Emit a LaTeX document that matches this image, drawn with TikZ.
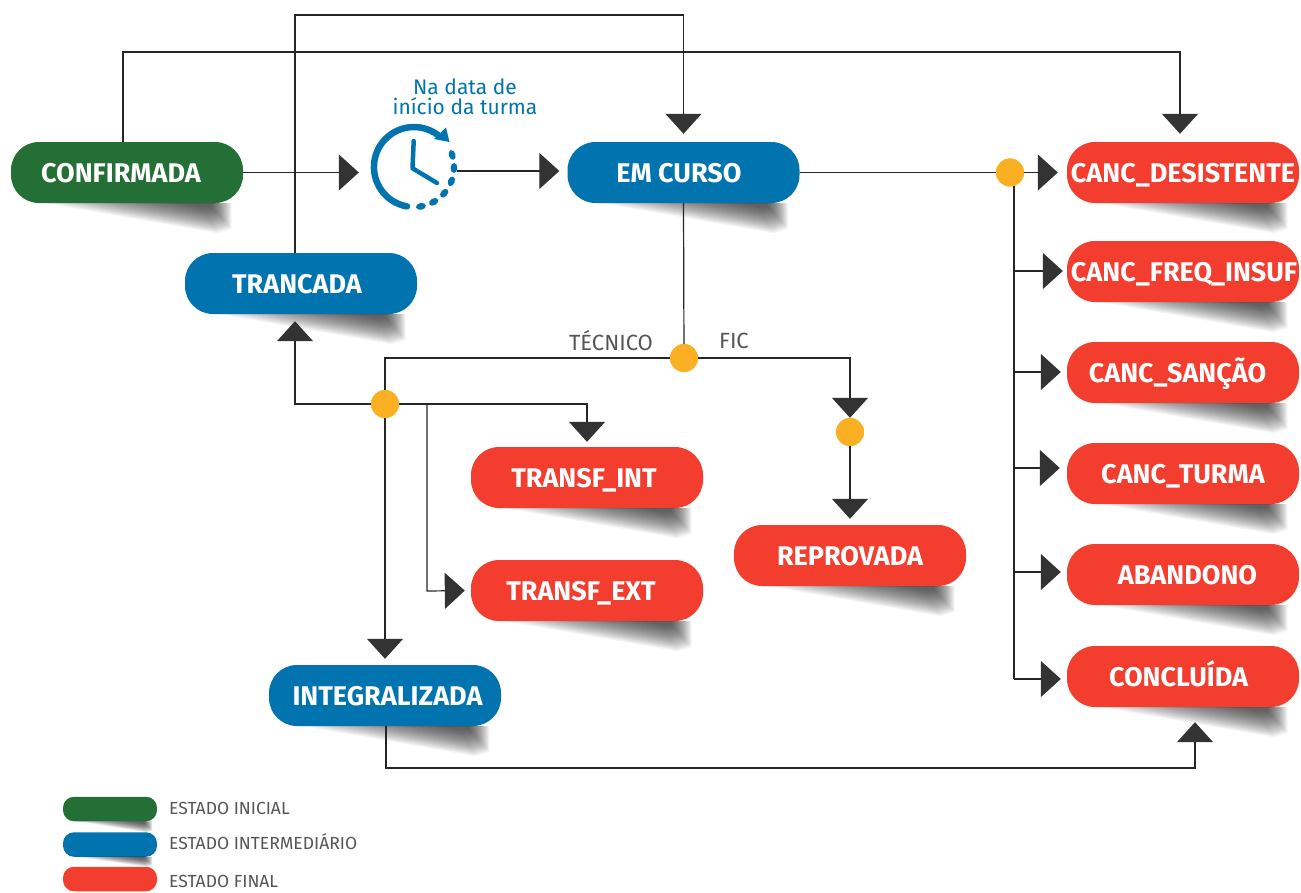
\documentclass[tikz,border=0pt]{standalone}
\usepackage{fontspec}
\setmainfont{Fira Sans}
\usetikzlibrary{arrows.meta,calc}

\definecolor{verde}{HTML}{236F35}
\definecolor{azul}{HTML}{0174AF}
\definecolor{vermelho}{HTML}{F33D2F}
\definecolor{laranja}{HTML}{FBB024}
\definecolor{ponta}{HTML}{333333}
\definecolor{cinza}{HTML}{555555}

\tikzset{
    estado/.style={rectangle, rounded corners=28pt, minimum width=232pt, minimum height=61pt,
        inner sep=0pt, text=white, text height=19pt, text depth=0pt,
        font=\fontsize{27}{31}\selectfont\bfseries, fill=#1},
    chave/.style={rectangle, rounded corners=11pt, minimum width=94pt, minimum height=24.5pt,
        inner sep=0pt, fill=#1},
    juncao/.style={circle, fill=laranja, minimum size=28pt, inner sep=0pt},
    linha/.style={line width=1.2pt, draw=black!85},
    seta/.style={linha, -{Triangle[length=20pt,width=36pt,color=ponta]}},
    rotulo/.style={text=cinza, font=\fontsize{22}{26}\selectfont},
    legenda/.style={text=cinza, anchor=west, inner sep=0pt, font=\fontsize{17.5}{21}\selectfont}
}

% sombra em cunha abaixo de um estado
\newcommand{\sombra}[2]{
    \foreach \i in {0,...,23} {
        \pgfmathsetmacro{\t}{\i/24}
        \fill[black, opacity=.04]
            ($(#1.south west)!{.15+.62*\t}!(#1.south east)$)
            -- ($(#1.south west)!{.95-.09*\t}!(#1.south east)$)
            -- ($(#1.south west)!{.95-.09*\t}!(#1.south east)+(0,{#2*(.85-.75*\t)})$)
            -- ($(#1.south west)!{.89-.07*\t}!(#1.south east)+(0,{#2*(1-.9*\t)})$)
            -- cycle;
    }
}

\begin{document}
\begin{tikzpicture}[x=1pt, y=-1pt]
    \useasboundingbox (0, 0) rectangle (1301, 892);

    % Estados
    \node[estado=verde] (confirmada) at (127, 172.5) {\hspace*{-12pt}CONFIRMADA};
    \node[estado=azul] (trancada) at (301, 283.5) {\hspace*{-8pt}TRANCADA};
    \node[estado=azul] (emcurso) at (683.5, 172.5) {\hspace*{-9pt}EM CURSO};
    \node[estado=azul] (integralizada) at (385, 695.5) {\hspace*{5pt}INTEGRALIZADA};
    \node[estado=vermelho] (transfint) at (587, 477.5) {\hspace*{-6pt}TRANSF\_INT};
    \node[estado=vermelho] (transfext) at (587, 590.5) {\hspace*{-12pt}TRANSF\_EXT};
    \node[estado=vermelho] (reprovada) at (850, 555.5) {REPROVADA};
    \node[estado=vermelho] (desistente) at (1183, 172.5) {CANC\_DESISTENTE};
    \node[estado=vermelho] (frequencia) at (1183, 271.5) {\hspace*{2pt}CANC\_FREQ\_INSUF};
    \node[estado=vermelho] (sancao) at (1183, 372.5) {\hspace*{-11pt}CANC\_SANÇÃO};
    \node[estado=vermelho] (turma) at (1183, 473.5) {CANC\_TURMA};
    \node[estado=vermelho] (abandono) at (1183, 574.5) {\hspace*{9pt}ABANDONO};
    \node[estado=vermelho] (concluida) at (1183, 676.5) {\hspace*{-9pt}CONCLUÍDA};

    % Sombras
    \foreach \n in {confirmada, trancada, emcurso, integralizada, transfint, transfext,
        reprovada, desistente, frequencia, sancao, turma, abandono, concluida} {
        \sombra{\n}{30}
    }

    % Relogio
    \node[minimum size=86pt, inner sep=0pt] (relogio) at (414, 167) {};
    \draw[azul, line width=6.5pt, line cap=round] (407, 206.4) arc (100:309:40);
    \fill[azul] (446, 127.5) -- (449.5, 142) -- (434, 139) -- cycle;
    \draw[azul, line width=4.5pt, line cap=round, line join=round] (413.7, 141) -- (412.5, 168.3) -- (437, 183);
    \foreach \a in {-17.5, 1.4, 21, 41, 60.6, 80} {
        \fill[azul, shift={(414, 167)}, shift={(\a:40)}, rotate=-\a] (0, 0) ellipse (3.4 and 5);
    }
    \node[text=azul, align=center, inner sep=0pt, font=\fontsize{21}{20}\selectfont] (aviso) at (465, 97) {Na data de\\início da turma};

    % Juncoes
    \node[juncao] (direita) at (1010, 172.5) {};
    \node[juncao] (tipo) at (684, 358) {};
    \node[juncao] (saida) at (385, 404) {};
    \node[juncao] (fic) at (850, 432) {};

    % Rotulos
    \node[rotulo] (tecnico) at (611, 341) {TÉCNICO};
    \node[rotulo] (ficlabel) at (734, 341) {FIC};

    % Linhas de cima
    \coordinate (c1) at (123, 52);
    \coordinate (c2) at (1180, 52);
    \coordinate (c3) at (295, 15);
    \draw[seta, shorten >=8pt] (c1 |- confirmada.north) -- (c1) -- (c2) -- (c2 |- desistente.north);
    \draw[seta, shorten >=8pt] (c3 |- trancada.north) -- (c3) -| (emcurso.north);

    % Linha principal
    \coordinate (c0) at (457, 171);
    \draw[seta, shorten >=12pt] (confirmada.east) -- (relogio.west |- confirmada.east);
    \draw[seta, shorten >=8pt] (c0) -- (emcurso.west |- c0);
    \draw[linha] (emcurso.east) -- (direita);
    \draw[seta, shorten >=9pt] (direita) -- (desistente.west);

    % Barra da direita
    \coordinate (b0) at (1014, 173);
    \coordinate (b1) at (1014, 271);
    \coordinate (b2) at (1014, 372);
    \coordinate (b3) at (1014, 468);
    \coordinate (b4) at (1014, 572);
    \coordinate (b5) at (1014, 679);
    \draw[linha] (b0) -- (b5);
    \draw[seta, shorten >=4pt] (b1) -- (b1 -| frequencia.west);
    \draw[seta, shorten >=6pt] (b2) -- (b2 -| sancao.west);
    \draw[seta, shorten >=7pt] (b3) -- (b3 -| turma.west);
    \draw[seta, shorten >=6pt] (b4) -- (b4 -| abandono.west);
    \draw[seta, shorten >=6pt] (b5) -- (b5 -| concluida.west);

    % Tecnico e FIC
    \draw[linha] (emcurso.south) -- (tipo);
    \draw[linha] (saida) |- (tipo);
    \draw[seta] (tipo) -| (fic.north);
    \draw[seta, shorten >=6pt] (fic) -- (reprovada.north);

    % Saidas do tecnico
    \coordinate (c4) at (295, 404);
    \coordinate (c5) at (427, 404);
    \coordinate (c6) at (427, 591);
    \draw[seta, shorten >=7pt] (saida) -- (c4) -- (c4 |- trancada.south);
    \draw[seta, shorten >=5pt] (saida) -| (transfint.north);
    \draw[seta, shorten >=6pt] (c5) -- (c6) -- (transfext.west);
    \draw[seta, shorten >=6pt] (saida) -- (integralizada.north);

    % Integralizada para concluida
    \coordinate (c7) at (386, 768);
    \coordinate (c8) at (1195, 768);
    \draw[seta, shorten >=15pt] (c7 |- integralizada.south) -- (c7) -- (c8) -- (c8 |- concluida.south);

    % Juncoes por cima das linhas
    \node[juncao] at (direita) {};
    \node[juncao] at (tipo) {};
    \node[juncao] at (saida) {};
    \node[juncao] at (fic) {};

    % Legenda
    \node[chave=verde] (chaveinicial) at (110, 809) {};
    \node[chave=azul] (chavemeio) at (110, 844.5) {};
    \node[chave=vermelho] (chavefinal) at (110, 879) {};
    \sombra{chaveinicial}{11}
    \sombra{chavemeio}{10}
    \node[legenda] (textoinicial) at (169, 808) {ESTADO INICIAL};
    \node[legenda] (textomeio) at (169, 842) {ESTADO INTERMEDIÁRIO};
    \node[legenda] (textofinal) at (169, 881) {ESTADO FINAL};
\end{tikzpicture}
\end{document}
